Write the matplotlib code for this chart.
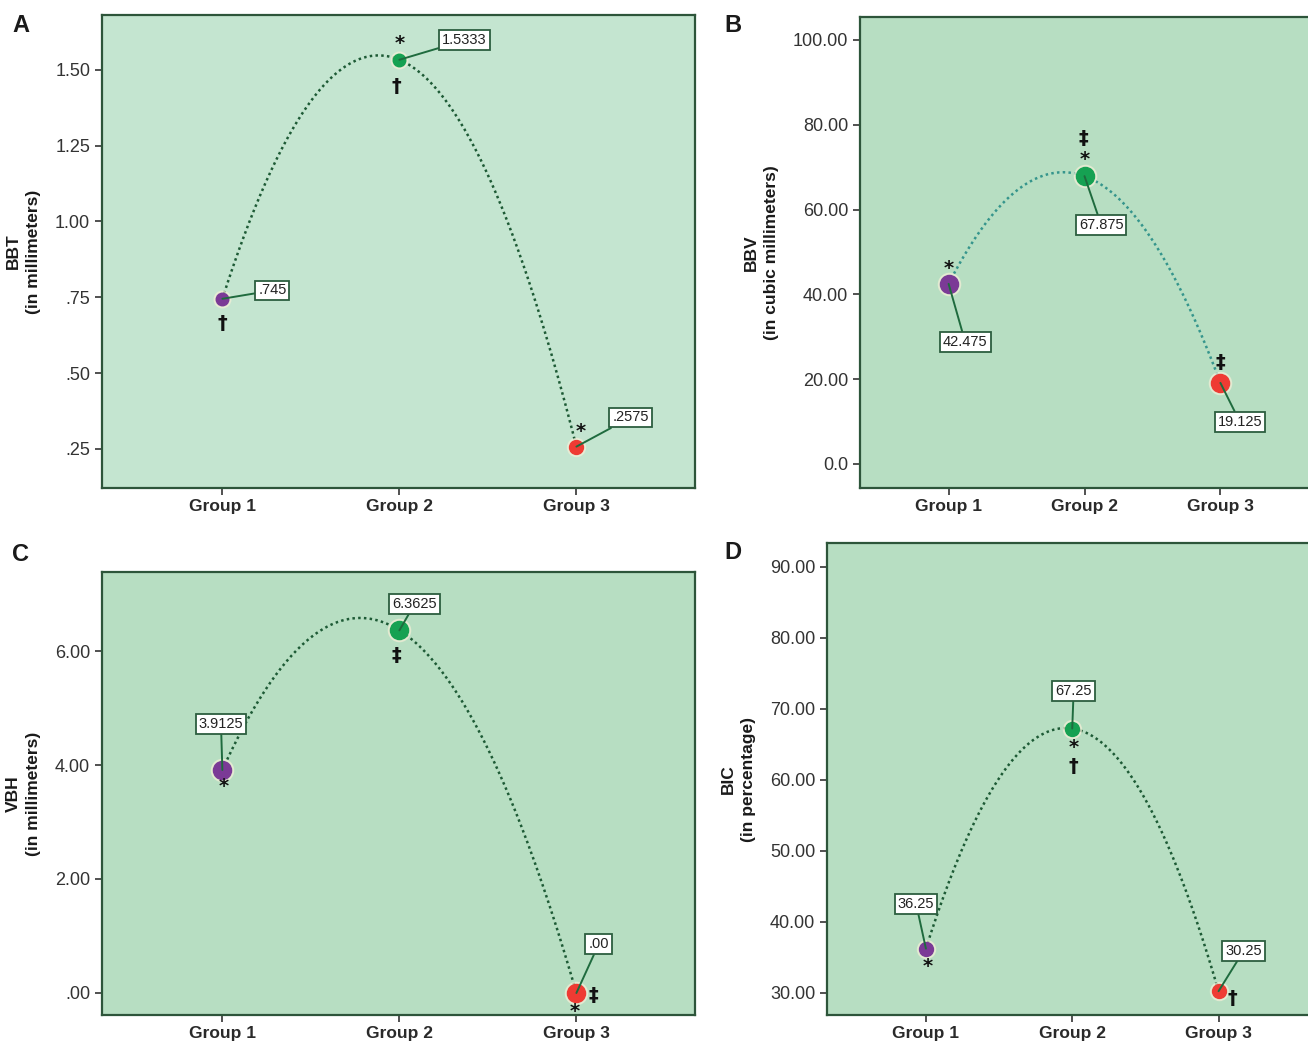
import numpy as np
import matplotlib.pyplot as plt

plt.rcParams['font.family'] = ['Liberation Sans', 'DejaVu Sans']

groups = ['Group 1', 'Group 2', 'Group 3']

bbt = [0.745, 1.5333, 0.2575]
bbv = [42.475, 67.875, 19.125]
vbh = [3.9125, 6.3625, 0.0]
bic = [36.25, 67.25, 30.25]

bbt_ticks = [0.25, 0.50, 0.75, 1.00, 1.25, 1.50]
bbt_ticklabels = ['.25', '.50', '.75', '1.00', '1.25', '1.50']
bbv_ticks = [0, 20, 40, 60, 80, 100]
bbv_ticklabels = ['0.0', '20.00', '40.00', '60.00', '80.00', '100.00']
vbh_ticks = [0, 2, 4, 6]
vbh_ticklabels = ['.00', '2.00', '4.00', '6.00']
bic_ticks = [30, 40, 50, 60, 70, 80, 90]
bic_ticklabels = ['30.00', '40.00', '50.00', '60.00', '70.00', '80.00', '90.00']

# significance marks per group, (symbol, dx, dy) offsets in points
bbt_marks = [[('†', 0, -18)], [('*', 0, 12), ('†', -2, -19)], [('*', 3, 11)]]
bbv_marks = [[('*', 0, 11)], [('*', 0, 12), ('‡', -1, 27)], [('‡', 0, 15)]]
vbh_marks = [[('*', 1, -12)], [('‡', -2, -18)], [('‡', 12, -2), ('*', -1, -13)]]
bic_marks = [[('*', 1, -13)], [('*', 1, -14), ('†', 1, -27)], [('†', 10, -5)]]

# value box offsets in points from each point
bbt_boxes = [(36, 6), (47, 14), (39, 21)]
bbv_boxes = [(12, -42), (12, -35), (14, -28)]
vbh_boxes = [(-1, 33), (11, 19), (16, 35)]
bic_boxes = [(-7, 32), (1, 27), (18, 29)]

purple = '#7b3a96'
green = '#16a152'
red = '#ef3b33'
box_edge = '#2c5e3f'
spine = '#2d553a'


def value_text(v):
    if v == 0:
        return '.00'
    s = f'{v:g}'
    return s[1:] if s.startswith('0.') else s


def panel(ax, values, ylim, ticks, ticklabels, ylabel, marks, boxes,
          bg, line_color, sizes, xlim=(0.32, 3.67)):
    x = np.arange(1, 4)
    coef = np.polyfit(x, values, 2)
    xs = np.linspace(1, 3, 200)
    ax.set_facecolor(bg)
    ax.plot(xs, np.polyval(coef, xs), linestyle=(0, (1, 1.3)), color=line_color,
            lw=1.8, zorder=2)
    colors = [purple, green, red]
    for xi, v, c, s, m, b in zip(x, values, colors, sizes, marks, boxes):
        ax.plot(xi, v, 'o', ms=s + 3, color='#f4efd8', alpha=0.6, zorder=3)
        ax.plot(xi, v, 'o', ms=s, color=c, zorder=4)
        ax.annotate(value_text(v), (xi, v), xytext=b, textcoords='offset points',
                    ha='center', va='center', fontsize=10.5,
                    family=['Liberation Sans Narrow', 'Liberation Sans'],
                    color='#222222',
                    bbox=dict(boxstyle='square,pad=0.2', fc='white', ec=box_edge, lw=1.3),
                    arrowprops=dict(arrowstyle='-', color='#1f6b3e', lw=1.4,
                                    shrinkA=0, shrinkB=0), zorder=5)
        for sym, dx, dy in m:
            ax.annotate(sym, (xi, v), xytext=(dx, dy), textcoords='offset points',
                        ha='center', va='center', fontsize=14, fontweight='bold',
                        color='#111111', zorder=5, family=['DejaVu Sans'])
    ax.set_xlim(*xlim)
    ax.set_ylim(*ylim)
    ax.set_xticks(x)
    ax.set_xticklabels(groups, fontsize=12.5, fontweight='bold', color='#2a2a2a')
    ax.set_yticks(ticks)
    ax.set_yticklabels(ticklabels, fontsize=13,
                       family=['Liberation Sans Narrow', 'Liberation Sans'],
                       color='#333333')
    ax.tick_params(axis='both', color='#333333', length=5, width=1.2)
    ax.tick_params(axis='x', pad=3)
    for sp in ax.spines.values():
        sp.set_color(spine)
        sp.set_linewidth(1.6)
    ax.set_ylabel(ylabel, fontsize=12.5, fontweight='bold', color='#1a1a1a',
                  linespacing=1.45, labelpad=10)


fig = plt.figure(figsize=(13.08, 10.43), dpi=100)
W, H = 1308, 1043


def box(l, t, r, b):
    return [l / W, 1 - b / H, (r - l) / W, (b - t) / H]


ax_a = fig.add_axes(box(102, 15, 695, 488))
ax_b = fig.add_axes(box(860, 17, 1340, 488))
ax_c = fig.add_axes(box(102, 572, 695, 1015))
ax_d = fig.add_axes(box(827, 543, 1340, 1015))

panel(ax_a, bbt, (0.121, 1.681), bbt_ticks, bbt_ticklabels,
      'BBT\n(in millimeters)', bbt_marks, bbt_boxes,
      '#c4e5d0', '#1d5a35', [9, 9, 10])
panel(ax_b, bbv, (-5.66, 105.4), bbv_ticks, bbv_ticklabels,
      'BBV\n(in cubic millimeters)', bbv_marks, bbv_boxes,
      '#b7dec2', '#35958c', [13, 13, 13], xlim=(0.348, 3.88))
panel(ax_c, vbh, (-0.386, 7.386), vbh_ticks, vbh_ticklabels,
      'VBH\n(in millimeters)', vbh_marks, vbh_boxes,
      '#b7dec2', '#1d5a35', [13, 13, 13])
panel(ax_d, bic, (26.9, 93.38), bic_ticks, bic_ticklabels,
      'BIC\n(in percentage)', bic_marks, bic_boxes,
      '#b7dec2', '#1d5a35', [10, 10, 10], xlim=(0.324, 3.83))

for letter, (px, py) in zip('ABCD', [(12, 14), (724, 14), (12, 543), (724, 541)]):
    fig.text(px / W, 1 - py / H, letter, fontsize=17, fontweight='bold',
             ha='left', va='top', color='#1a1a1a')

fig.savefig('out.png', dpi=100, facecolor='white')
